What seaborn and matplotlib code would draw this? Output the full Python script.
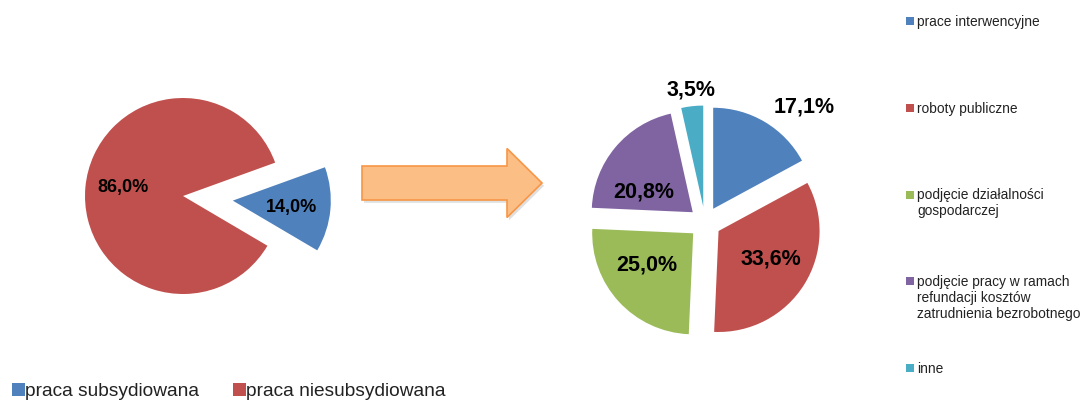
import matplotlib.pyplot as plt
import matplotlib.patheffects as pe
from matplotlib.patches import FancyArrow, Rectangle
import seaborn as sns

sns.set_theme(style="white")
plt.rcParams["font.family"] = ["Liberation Sans", "DejaVu Sans"]

# left pie - subsidised vs non-subsidised work
left_labels = ["praca subsydiowana", "praca niesubsydiowana"]
left_values = [14.0, 86.0]

# right pie - breakdown of subsidised work
right_labels = [
    "prace interwencyjne",
    "roboty publiczne",
    "podjęcie działalności\ngospodarczej",
    "podjęcie pracy w ramach\nrefundacji kosztów\nzatrudnienia bezrobotnego",
    "inne",
]
right_values = [17.1, 33.6, 25.0, 20.8, 3.5]

palette = sns.color_palette(["#4F81BD", "#C0504D", "#9BBB59", "#8064A2", "#4BACC6"])

# layout (pixel units, y pointing up)
W, H = 1082, 401
left_center, left_r = (183, 205), 98
right_center, right_r = (705, 178.5), 101
left_label_off = [(1.11, -0.12), (-0.61, 0.09)]
right_label_off = [(0.98, 1.14), (0.65, -0.36), (-0.58, -0.42), (-0.61, 0.30), (-0.14, 1.31)]


def pct(v):
    return f"{v:.1f}%".replace(".", ",")


fig = plt.figure(figsize=(W / 100, H / 100), dpi=100)
ax = fig.add_axes([0, 0, 1, 1])

ax.pie(left_values, colors=palette[:2], startangle=-30.5, counterclock=True,
       explode=[50, 0], radius=left_r, center=left_center,
       wedgeprops=dict(linewidth=0))
for v, (dx, dy) in zip(left_values, left_label_off):
    ax.text(left_center[0] + dx * left_r, left_center[1] + dy * left_r, pct(v),
            ha="center", va="center", fontsize=13, fontweight="bold", color="black")

ax.pie(right_values, colors=palette, startangle=90, counterclock=False,
       explode=[16] * len(right_values), radius=right_r, center=right_center,
       wedgeprops=dict(linewidth=0))
for v, (dx, dy) in zip(right_values, right_label_off):
    ax.text(right_center[0] + dx * right_r, right_center[1] + dy * right_r, pct(v),
            ha="center", va="center", fontsize=15.5, fontweight="bold", color="black")

# arrow between the pies
arrow = FancyArrow(362, H - 183, 180, 0, width=34, head_width=69, head_length=35,
                   length_includes_head=True, facecolor="#FBBE85", edgecolor="#F79646",
                   linewidth=1.2, zorder=3)
arrow.set_path_effects([pe.SimplePatchShadow(offset=(1.5, -2), shadow_rgbFace="gray", alpha=0.25),
                        pe.Normal()])
ax.add_patch(arrow)

# right legend
for i, lab in enumerate(right_labels):
    base = H - (26 + i * 86.75)
    ax.add_patch(Rectangle((906, base + 1), 8, 8, facecolor=palette[i], edgecolor="none"))
    for j, line in enumerate(lab.split("\n")):
        ax.text(917, base - j * 16, line, ha="left", va="baseline",
                fontsize=9.9, color="#222222")

# bottom legend
for i, (lab, x0) in enumerate(zip(left_labels, [12, 233])):
    ax.add_patch(Rectangle((x0, 5), 12.5, 13, facecolor=palette[i], edgecolor="none"))
    ax.text(x0 + 13, 5, lab, ha="left", va="baseline", fontsize=13.8, color="#222222")

ax.set_xlim(0, W)
ax.set_ylim(0, H)
ax.set_aspect("auto")
ax.axis("off")

fig.savefig("out.png", dpi=100, facecolor="white")
